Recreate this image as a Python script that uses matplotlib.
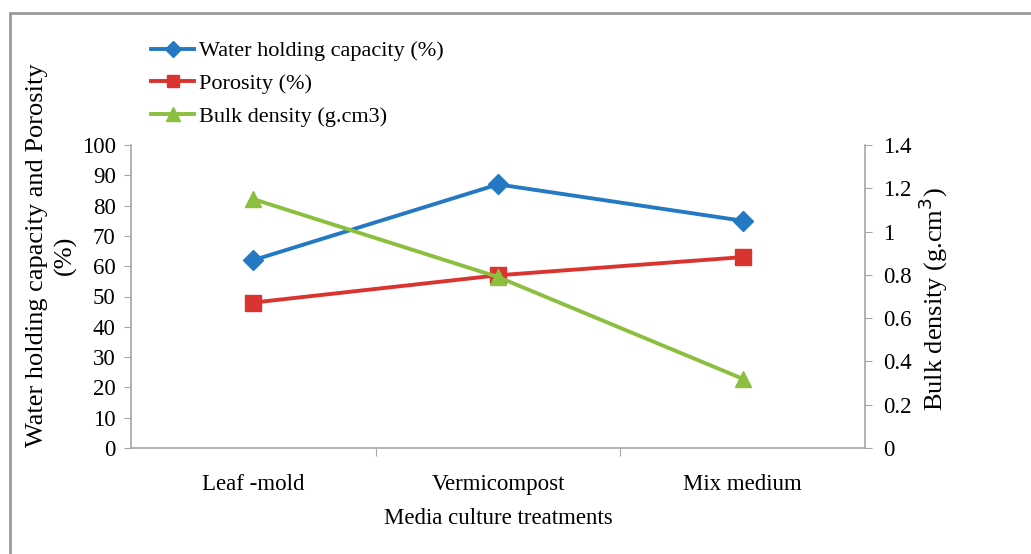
import matplotlib
matplotlib.use("Agg")
import matplotlib.pyplot as plt
from matplotlib.patches import Rectangle

treatments = ["Leaf -mold", "Vermicompost", "Mix medium"]
water_holding = [62, 87, 75]
porosity = [48, 57, 63]
bulk_density = [1.15, 0.79, 0.32]

plt.rcParams["font.family"] = ["Liberation Serif", "DejaVu Serif"]

W, H = 1031, 554
fig = plt.figure(figsize=(W / 100, H / 100), dpi=100)

# axes box in pixel terms
left, right, top, bottom = 131, 865, 145, 448
ax = fig.add_axes([left / W, 1 - bottom / H, (right - left) / W, (bottom - top) / H])
ax2 = ax.twinx()

blue, red, green = "#2479c2", "#d9342f", "#8cbf3f"
axis_grey = "#a6a6a6"
fs = 16.5

x = list(range(len(treatments)))
l1, = ax.plot(x, water_holding, color=blue, lw=2.8, marker="D", ms=10, label="Water holding capacity (%)")
l2, = ax.plot(x, porosity, color=red, lw=2.8, marker="s", ms=11, label="Porosity (%)")
l3, = ax2.plot(x, bulk_density, color=green, lw=2.8, marker="^", ms=12, label="Bulk density (g.cm3)")

ax.set_xlim(-0.5, 2.5)
ax.set_ylim(0, 100)
ax2.set_ylim(0, 1.4)
ax.set_yticks(range(0, 101, 10))
ax2.set_yticks([0, 0.2, 0.4, 0.6, 0.8, 1.0, 1.2, 1.4])
ax2.set_yticklabels(["0", "0.2", "0.4", "0.6", "0.8", "1", "1.2", "1.4"])

ax.set_xticks([0.5, 1.5], minor=False)
ax.set_xticklabels([])
ax.set_xticks(x, minor=True)
ax.set_xticklabels(treatments, minor=True)
ax.tick_params(axis="x", which="minor", length=0, labelsize=fs, pad=19)
ax.tick_params(axis="x", which="major", length=6, color=axis_grey, direction="out")
ax.tick_params(axis="y", labelsize=fs, length=5, color=axis_grey, direction="out", pad=6)
ax2.tick_params(axis="y", labelsize=fs, length=5, color=axis_grey, direction="out", pad=8)

for a in (ax, ax2):
    a.spines["top"].set_visible(False)
    for s in ("left", "right", "bottom"):
        a.spines[s].set_color(axis_grey)
        a.spines[s].set_linewidth(1.2)
ax.spines["right"].set_visible(False)
ax2.spines["left"].set_visible(False)
ax2.spines["bottom"].set_visible(False)

ax.set_xlabel("Media culture treatments", fontsize=fs, labelpad=9)
ax.set_ylabel("Water holding capacity and Porosity\n(%)", fontsize=19, linespacing=1.3)
ax.yaxis.set_label_coords(-0.074, 0.635)
ax2.set_ylabel("Bulk density (g.cm$^3$)", fontsize=19)
ax2.yaxis.set_label_coords(1.071, 0.49)

fig.legend(handles=[l1, l2, l3], loc="upper left", bbox_to_anchor=(142 / W, 1 - 32 / H),
           frameon=False, fontsize=16, handlelength=1.95, handletextpad=0.2,
           labelspacing=0.55, markerscale=0.8, borderaxespad=0)

# outer frame
fig.patches.append(Rectangle((10 / W, -0.05), 1.1, 1 - 13 / H + 0.05, transform=fig.transFigure,
                             fill=False, edgecolor="#9a9a9a", lw=2.0))

fig.savefig("out.png", dpi=100)
